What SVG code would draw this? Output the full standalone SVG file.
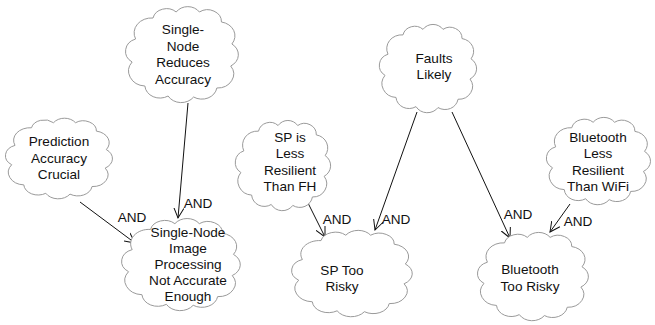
<svg xmlns="http://www.w3.org/2000/svg" xmlns:xlink="http://www.w3.org/1999/xlink" width="655" height="325" viewBox="0 0 655 325">
<style>
.cloud{fill:#fff;stroke:#9a9a9a;stroke-width:1}
.t{font-family:"Liberation Sans",Arial,sans-serif;font-size:13.6px;fill:#111;text-anchor:middle}
.e{stroke:#111;stroke-width:1;fill:none;marker-end:url(#arr)}
</style>
<defs>
<path id="cp" vector-effect="non-scaling-stroke" d="M10,35 A15,15 0 0 1 25,14 A12,12 0 0 1 45,8 A12,12 0 0 1 65,8 A12,12 0 0 1 84,18 A14,14 0 0 1 93,40 A13,13 0 0 1 92,62 A14,14 0 0 1 80,84 A13,13 0 0 1 60,93 A13,13 0 0 1 38,92 A13,13 0 0 1 18,82 A15,15 0 0 1 7,58 A13,13 0 0 1 10,35 Z"/>
<marker id="arr" markerWidth="12" markerHeight="12" refX="10" refY="5" orient="auto" markerUnits="userSpaceOnUse" viewBox="0 0 12 10">
<path d="M0,0 L10,5 L0,10" fill="none" stroke="#111" stroke-width="1"/>
</marker>
</defs>
<g id="connectors">
<line class="e" x1="80" y1="202" x2="135" y2="243"/>
<line class="e" x1="188" y1="103" x2="178" y2="218"/>
<line class="e" x1="308" y1="203" x2="325" y2="237"/>
<line class="e" x1="417" y1="112" x2="375" y2="230"/>
<line class="e" x1="452" y1="112" x2="510" y2="238"/>
<line class="e" x1="570" y1="204" x2="550" y2="232"/>
<text class="t" x="132" y="222">AND</text>
<text class="t" x="198" y="208">AND</text>
<text class="t" x="337" y="224">AND</text>
<text class="t" x="396" y="224">AND</text>
<text class="t" x="518" y="219">AND</text>
<text class="t" x="578" y="226">AND</text>
</g>
<g id="n1">
<use xlink:href="#cp" class="cloud" transform="translate(4,116) scale(1.1,0.84)"/>
<text class="t" x="59" y="146">Prediction</text>
<text class="t" x="59" y="163">Accuracy</text>
<text class="t" x="59" y="179">Crucial</text>
</g>
<g id="n2">
<use xlink:href="#cp" class="cloud" transform="translate(124,4) scale(1.16,1.0)"/>
<text class="t" x="183" y="34">Single-</text>
<text class="t" x="183" y="51">Node</text>
<text class="t" x="183" y="67">Reduces</text>
<text class="t" x="183" y="84">Accuracy</text>
</g>
<g id="n3">
<use xlink:href="#cp" class="cloud" transform="translate(120,216) scale(1.22,0.96)"/>
<text class="t" x="188" y="237">Single-Node</text>
<text class="t" x="188" y="253">Image</text>
<text class="t" x="188" y="269">Processing</text>
<text class="t" x="188" y="285">Not Accurate</text>
<text class="t" x="188" y="301">Enough</text>
</g>
<g id="n4">
<use xlink:href="#cp" class="cloud" transform="translate(234,118) scale(0.98,0.94)"/>
<text class="t" x="290" y="142">SP is</text>
<text class="t" x="290" y="158">Less</text>
<text class="t" x="290" y="175">Resilient</text>
<text class="t" x="290" y="191">Than FH</text>
</g>
<g id="n5">
<use xlink:href="#cp" class="cloud" transform="translate(290,228) scale(1.24,0.9)"/>
<text class="t" x="342" y="275">SP Too</text>
<text class="t" x="342" y="291">Risky</text>
</g>
<g id="n6">
<use xlink:href="#cp" class="cloud" transform="translate(378,22) scale(1.0,0.92)"/>
<text class="t" x="434" y="63">Faults</text>
<text class="t" x="434" y="79">Likely</text>
</g>
<g id="n7">
<use xlink:href="#cp" class="cloud" transform="translate(545,115) scale(1.07,0.91)"/>
<text class="t" x="598" y="142">Bluetooth</text>
<text class="t" x="598" y="158">Less</text>
<text class="t" x="598" y="175">Resilient</text>
<text class="t" x="598" y="191">Than WiFi</text>
</g>
<g id="n8">
<use xlink:href="#cp" class="cloud" transform="translate(476,230) scale(1.14,0.92)"/>
<text class="t" x="530" y="274">Bluetooth</text>
<text class="t" x="530" y="291">Too Risky</text>
</g>
</svg>
